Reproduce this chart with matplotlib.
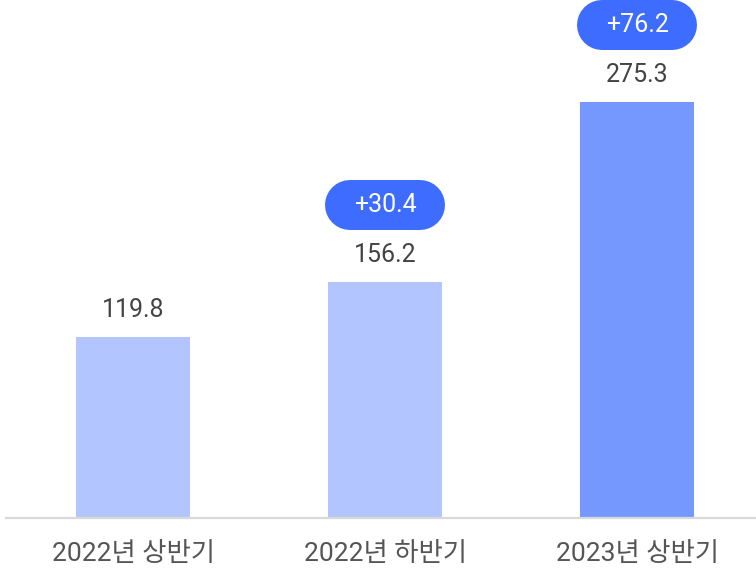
import matplotlib.pyplot as plt
import matplotlib.transforms as mtransforms

plt.rcParams['font.family'] = ['Roboto', 'Noto Sans CJK KR', 'DejaVu Sans']

categories = ['2022년 상반기', '2022년 하반기', '2023년 상반기']
values = [119.8, 156.2, 275.3]
changes = [None, '+30.4', '+76.2']
bar_colors = ['#B3C5FF', '#B3C5FF', '#7598FF']
badge_color = '#3D6CFF'

fig = plt.figure(figsize=(7.56, 5.69), dpi=100)
ax = fig.add_axes([6 / 756, 51 / 569, 750 / 756, 518 / 569])

x = list(range(len(categories)))
ax.bar(x, values, width=0.452, color=bar_colors, zorder=2)
ax.set_xlim(-0.504, 2.472)
ax.set_ylim(0, 342.8)

for s in ['top', 'right', 'left']:
    ax.spines[s].set_visible(False)
ax.spines['bottom'].set_color('#D9D9D9')
ax.spines['bottom'].set_linewidth(1.6)
ax.set_yticks([])
ax.set_xticks(x)
ax.set_xticklabels(categories, fontsize=19, color='#555555')
ax.tick_params(axis='x', length=0, pad=17)

for xi, v, ch in zip(x, values, changes):
    ax.annotate(f'{v:.1f}', (xi, v), xytext=(0, 14.5), textcoords='offset points',
                ha='center', va='baseline', fontsize=18, color='#444444')
    if ch:
        # pill badge: thick line with round caps, sized in inches
        trans = fig.dpi_scale_trans + mtransforms.ScaledTranslation(xi, v, ax.transData)
        ax.plot([-0.35, 0.35], [0.765, 0.765], transform=trans, color=badge_color,
                linewidth=36, solid_capstyle='round', clip_on=False, zorder=3)
        ax.annotate(ch, (xi, v), xytext=(0, (0.765 - 0.065) * 72), textcoords='offset points',
                    ha='center', va='baseline', fontsize=18, color='white', zorder=4)

fig.savefig('out.png', dpi=100)
